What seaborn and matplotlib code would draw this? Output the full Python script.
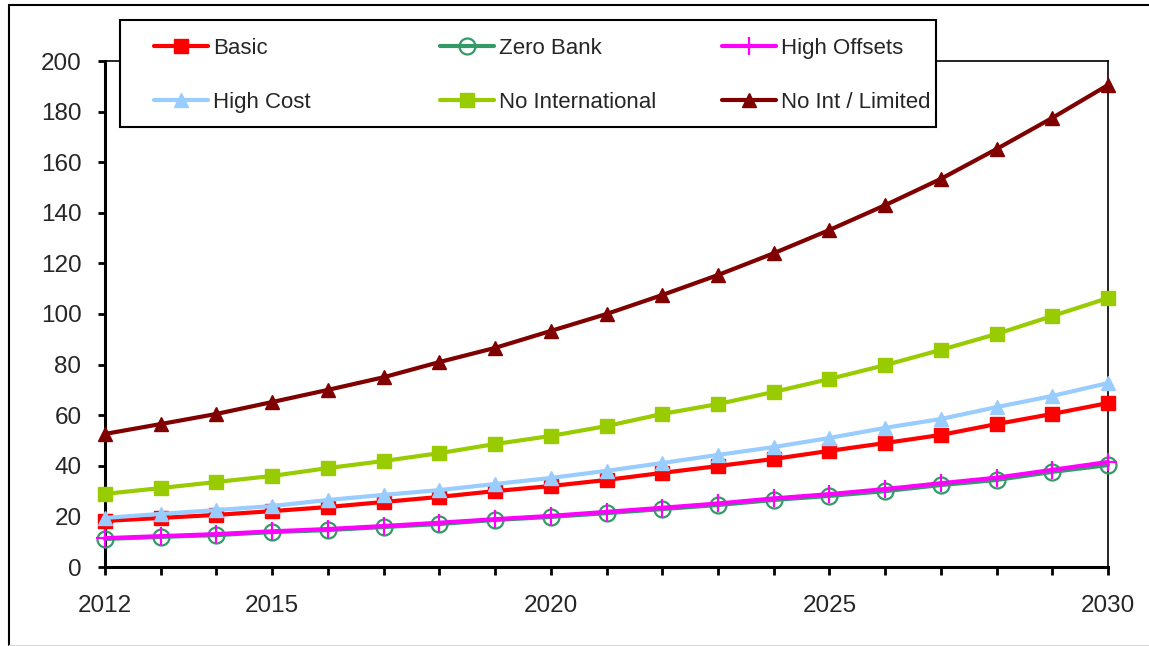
import matplotlib
matplotlib.use("Agg")
import matplotlib.pyplot as plt
from matplotlib.patches import Rectangle
from matplotlib.lines import Line2D
import seaborn as sns

# --------------------------------------------------------------------------- #
# Data
# --------------------------------------------------------------------------- #
YEARS = list(range(2012, 2031))

BASIC = [18.2, 19.4, 20.6, 22.1, 23.7, 25.7, 27.7, 30.0, 32.0, 34.4,
         37.2, 39.9, 42.7, 45.9, 49.0, 52.2, 56.5, 60.5, 64.8]
ZERO_BANK = [11.1, 11.9, 12.6, 13.8, 14.6, 15.8, 17.0, 18.6, 19.8, 21.3,
             22.9, 24.5, 26.5, 28.1, 30.0, 32.4, 34.4, 37.6, 40.3]
HIGH_OFFSETS = [11.4, 12.2, 13.0, 14.1, 15.0, 16.2, 17.5, 18.9, 20.2, 21.8,
                23.4, 25.1, 27.1, 28.8, 30.8, 33.1, 35.3, 38.4, 41.5]
HIGH_COST = [19.4, 21.0, 22.5, 24.1, 26.5, 28.5, 30.4, 32.8, 35.2, 38.0,
             41.1, 44.3, 47.4, 51.0, 55.0, 58.5, 63.2, 67.6, 72.7]
NO_INTL = [28.9, 31.2, 33.6, 36.0, 39.1, 41.9, 45.0, 48.6, 51.8, 55.7,
           60.5, 64.4, 69.2, 74.3, 79.8, 85.8, 92.1, 99.2, 106.3]
NO_INT_LIMITED = [52.6, 56.5, 60.5, 65.2, 70.0, 75.0, 81.0, 86.6, 93.3, 100.0,
                  107.5, 115.4, 124.0, 133.2, 143.0, 153.4, 165.2, 177.5, 190.5]

XTICK_LABELS = ["2012", "", "", "2015", "", "", "", "", "2020", "", "", "",
                "", "2025", "", "", "", "", "2030"]
YTICKS = list(range(0, 201, 20))

# name, values, color, marker, filled
SERIES = [
    ("Basic", BASIC, "#ff0000", "s", True),
    ("Zero Bank", ZERO_BANK, "#339966", "o", False),
    ("High Offsets", HIGH_OFFSETS, "#ff00ff", "+", True),
    ("High Cost", HIGH_COST, "#99ccff", "^", True),
    ("No International", NO_INTL, "#99cc00", "s", True),
    ("No Int / Limited", NO_INT_LIMITED, "#800000", "^", True),
]
MSIZE = {"s": 10, "o": 11.5, "+": 12.5, "^": 10.5}
TICK_FONT = 17.5
LEGEND_FONT = 16

sns.set_style("ticks")
plt.rcParams["font.family"] = ["Liberation Sans", "DejaVu Sans"]

fig = plt.figure(figsize=(11.49, 6.46), dpi=100)
ax = fig.add_axes([105 / 1149, 1 - 567 / 646, (1108 - 105) / 1149, (567 - 61) / 646])


def _style(color, marker, filled):
    return dict(color=color, lw=3.0, marker=marker, markersize=MSIZE[marker],
                markeredgecolor=color,
                markerfacecolor=color if filled else "none",
                markeredgewidth=1.6 if marker in "o+" else 1.0)


handles = {}
for name, vals, color, marker, filled in SERIES:
    sns.lineplot(x=YEARS, y=vals, legend=False, ax=ax, clip_on=False,
                 zorder=3, **_style(color, marker, filled))
    handles[name] = Line2D([], [], **_style(color, marker, filled))

ax.set_xlim(2012, 2030)
ax.set_ylim(0, 200)
ax.set_xticks(YEARS)
ax.set_xticklabels(XTICK_LABELS)
ax.set_yticks(YTICKS)
ax.set_xlabel("")
ax.set_ylabel("")
ax.tick_params(axis="x", length=6, width=2, pad=14, labelsize=TICK_FONT, color="black")
ax.tick_params(axis="y", length=5, width=2, pad=12, labelsize=TICK_FONT, color="black")
for side in ["left", "bottom"]:
    ax.spines[side].set_linewidth(2.2)
    ax.spines[side].set_color("black")
for side in ["top", "right"]:
    ax.spines[side].set_visible(True)
    ax.spines[side].set_linewidth(1.2)
    ax.spines[side].set_color("black")

# outer chart border
fig.add_artist(Line2D([9 / 1149, 9 / 1149], [0.002, 1 - 5 / 646],
                      transform=fig.transFigure, color="black", lw=1.5))
fig.add_artist(Line2D([9 / 1149, 1.0], [1 - 5 / 646, 1 - 5 / 646],
                      transform=fig.transFigure, color="black", lw=1.5))
fig.add_artist(Line2D([9 / 1149, 1.0], [0.002, 0.002],
                      transform=fig.transFigure, color="#dddddd", lw=1))

# legend box, then one legend per column
fig.add_artist(Rectangle((120 / 1149, 1 - 127 / 646), (936 - 120) / 1149, 107 / 646,
                         transform=fig.transFigure, facecolor="white",
                         edgecolor="black", lw=1.5, zorder=4))
COLUMNS = [(154, ["Basic", "High Cost"]),
           (440, ["Zero Bank", "No International"]),
           (722, ["High Offsets", "No Int / Limited"])]
for x, names in COLUMNS:
    fig.legend([handles[n] for n in names], names, loc="upper left",
               bbox_to_anchor=(x / 1149, 1 - 38 / 646), frameon=False,
               borderpad=0, borderaxespad=0, handlelength=2.45,
               handletextpad=0.2, labelspacing=1.48, fontsize=LEGEND_FONT)

fig.savefig("out.png", dpi=100)
